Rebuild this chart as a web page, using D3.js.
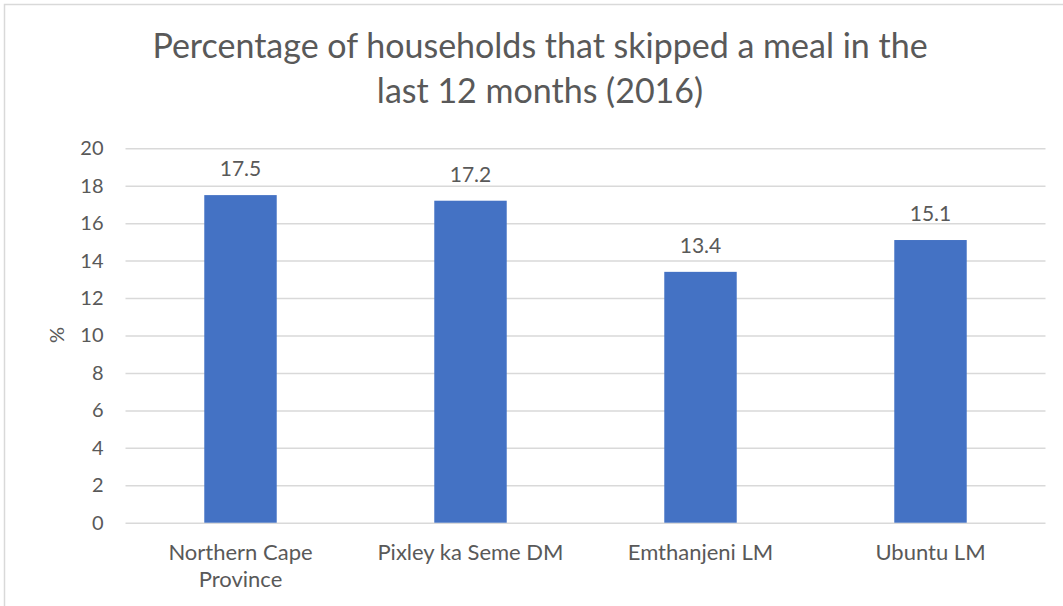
<!DOCTYPE html>
<html>
<head>
<meta charset="utf-8">
<script src="https://cdn.jsdelivr.net/npm/d3@7"></script>
<style>
  body { margin: 0; background: #fff; }
  svg { display: block; font-family: Lato, sans-serif; }
</style>
</head>
<body>
<div id="chart"></div>
<script>
// data
var categories = ["Northern Cape Province", "Pixley ka Seme DM", "Emthanjeni LM", "Ubuntu LM"];
var values = [17.5, 17.2, 13.4, 15.1];
var yTicks = [0, 2, 4, 6, 8, 10, 12, 14, 16, 18, 20];
var titleLines = ["Percentage of households that skipped a meal in the", "last 12 months (2016)"];

var width = 1063, height = 606;
var margin = {top: 148.3, right: 17.5, bottom: 83.3, left: 125.5};
var textColor = "#595959";

var svg = d3.select("#chart")
  .append("svg")
  .attr("width", width)
  .attr("height", height);

// chart frame
svg.append("path")
  .attr("d", `M4.5,${height}V4.5H${width}`)
  .attr("fill", "none")
  .attr("stroke", "#d9d9d9")
  .attr("stroke-width", 1.5);

var x = d3.scaleBand()
  .domain(categories)
  .range([margin.left, width - margin.right])
  .paddingInner(0.685)
  .paddingOuter(0.3425);

var y = d3.scaleLinear()
  .domain([0, 20])
  .range([height - margin.bottom, margin.top]);

// gridlines + y labels
var yAxis = g => g
  .attr("transform", `translate(${margin.left},0)`)
  .call(d3.axisLeft(y).tickValues(yTicks).tickSize(-(width - margin.right - margin.left)).tickPadding(22))
  .call(g => g.select(".domain").remove())
  .call(g => g.selectAll(".tick line").attr("stroke", "#d9d9d9").attr("stroke-width", 1.5))
  .call(g => g.selectAll(".tick text")
      .attr("fill", textColor)
      .style("font-size", "20px")
      .style("font-family", "Lato, sans-serif"));

svg.append("g").call(yAxis);

// bars
svg.append("g")
  .selectAll("rect")
  .data(values)
  .join("rect")
    .attr("x", (d, i) => x(categories[i]))
    .attr("y", d => y(d))
    .attr("width", x.bandwidth())
    .attr("height", d => y(0) - y(d))
    .attr("fill", "#4472c4");

// value labels
svg.append("g")
  .selectAll("text")
  .data(values)
  .join("text")
    .attr("x", (d, i) => x(categories[i]) + x.bandwidth() / 2)
    .attr("y", d => y(d) - 19)
    .attr("text-anchor", "middle")
    .attr("fill", textColor)
    .style("font-size", "21px")
    .text(d => d.toFixed(1));

// category labels, wrapped like the original
var xLabels = svg.append("g")
  .selectAll("text")
  .data(categories)
  .join("text")
    .attr("x", d => x(d) + x.bandwidth() / 2)
    .attr("y", 560)
    .attr("text-anchor", "middle")
    .attr("fill", textColor)
    .style("font-size", "22px");

xLabels.each(function(d) {
  var text = d3.select(this);
  var words = d.split(" ");
  var lines = [], line = [];
  words.forEach(w => {
    var test = line.concat([w]).join(" ");
    text.text(test);
    if (line.length && text.node().getComputedTextLength() > 200) {
      lines.push(line.join(" "));
      line = [w];
    } else {
      line.push(w);
    }
  });
  lines.push(line.join(" "));
  text.text(null);
  lines.forEach((l, i) => {
    text.append("tspan")
      .attr("x", text.attr("x"))
      .attr("dy", i ? 27 : 0)
      .text(l);
  });
});

// y axis title
svg.append("text")
  .attr("transform", "translate(64,335) rotate(-90)")
  .attr("text-anchor", "middle")
  .attr("fill", textColor)
  .style("font-size", "20px")
  .text("%");

// chart title
svg.append("g")
  .selectAll("text")
  .data(titleLines)
  .join("text")
    .attr("x", 540)
    .attr("y", (d, i) => 58 + i * 45)
    .attr("text-anchor", "middle")
    .attr("fill", textColor)
    .style("font-size", "34px")
    .text(d => d);
</script>
</body>
</html>
